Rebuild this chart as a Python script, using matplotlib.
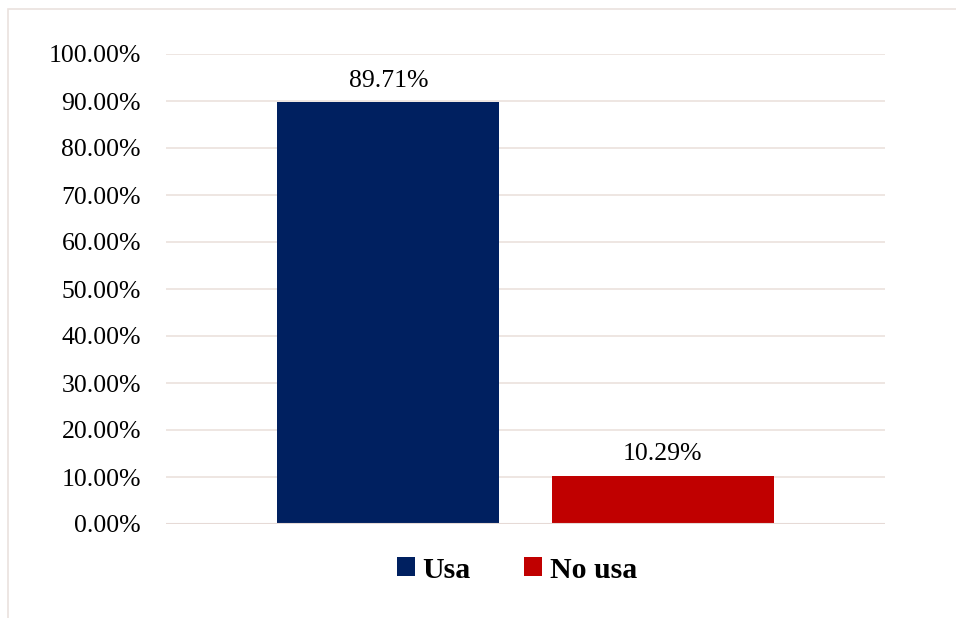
import matplotlib
matplotlib.use("Agg")
import matplotlib.pyplot as plt
from matplotlib.patches import Rectangle

categories = ["Usa", "No usa"]
values = [89.71, 10.29]
colors = ["#002060", "#C00000"]
yticks = [0, 10, 20, 30, 40, 50, 60, 70, 80, 90, 100]

plt.rcParams["font.family"] = ["Liberation Serif", "DejaVu Serif"]

fig = plt.figure(figsize=(9.56, 6.18), dpi=100)
ax = fig.add_axes([166 / 956, 1 - 524 / 618, (885 - 166) / 956, (524 - 54) / 618])

# chart frame (only left and top edges visible in the reference)
fig.patches.append(Rectangle((8 / 956, -0.1), 1.2, 1 - 9 / 618 + 0.1,
                             transform=fig.transFigure, fill=False,
                             edgecolor="#EAE2DE", linewidth=1.2))

xs = list(range(len(categories)))
bars = ax.bar(xs, values, width=0.81, color=colors, label=categories, zorder=3)
for x, v in zip(xs, values):
    ax.text(x, v + 2.2, f"{v:.2f}%", ha="center", va="bottom", fontsize=18.5)

ax.set_xlim(-0.81, 1.81)
ax.set_ylim(0, 100)
ax.set_yticks(yticks)
ax.set_yticklabels([f"{t:.2f}%" for t in yticks], fontsize=18.5)
ax.set_xticks([])
ax.tick_params(axis="y", length=0, pad=18)
ax.grid(axis="y", color="#EBE1DD", linewidth=1.2, zorder=0)
for s in ax.spines.values():
    s.set_visible(False)
ax.axhline(0, color="#E6DAD6", linewidth=1.5, zorder=4)

leg = fig.legend(handles=bars, labels=categories, loc="center",
                 bbox_to_anchor=(517 / 956, 1 - 570 / 618), ncol=2, frameon=False,
                 prop={"weight": "bold", "size": 21.5}, handlelength=0.6,
                 handleheight=0.6, handletextpad=0.25, columnspacing=1.8)

fig.savefig("out.png", dpi=100)
